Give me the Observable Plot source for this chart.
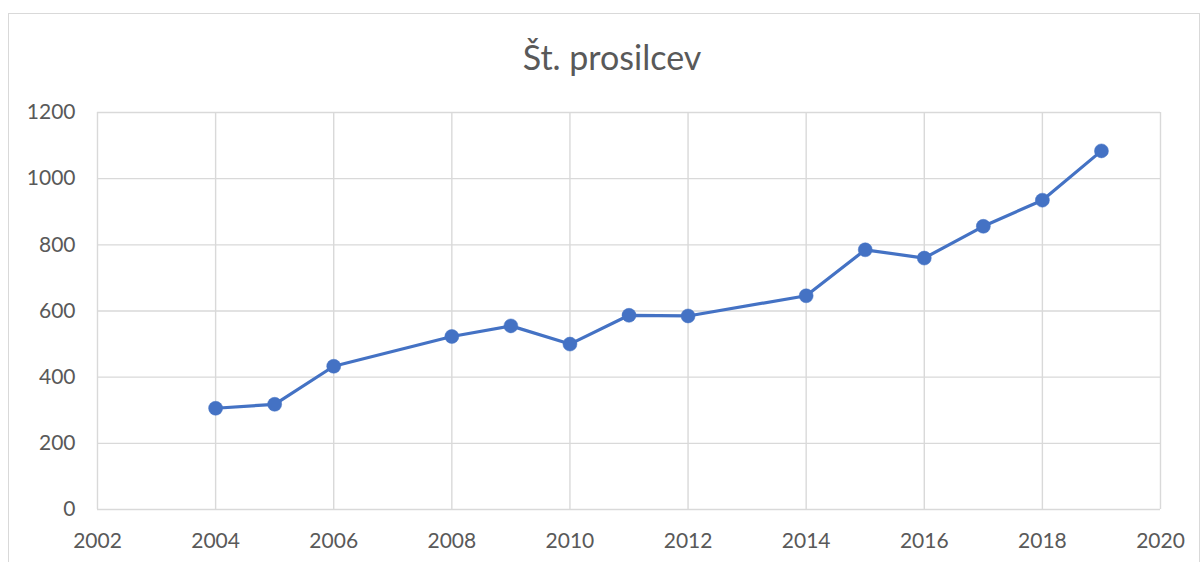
<!DOCTYPE html>
<html>
<head>
<meta charset="utf-8">
<script src="https://cdn.jsdelivr.net/npm/d3@7"></script>
<script src="https://cdn.jsdelivr.net/npm/@observablehq/plot@0.6"></script>
<style>
  html, body { margin: 0; padding: 0; background: #fff; overflow: hidden; }
  #wrap { position: relative; width: 1202px; height: 562px; font-family: Lato, "Open Sans", sans-serif; }
  #frame { position: absolute; left: 8px; top: 13px; width: 1192px; height: 600px; border: 1px solid #d9d9d9; box-sizing: border-box; }
  #title { position: absolute; left: 16px; width: 1192px; top: 37px; text-align: center; font-size: 34px; color: #595959; line-height: 40px; }
  #chart { position: absolute; left: 0; top: 80px; }
</style>
</head>
<body>
<div id="wrap">
  <div id="frame"></div>
  <div id="title">Št. prosilcev</div>
  <div id="chart"></div>
</div>
<script>
const years = [2004, 2005, 2006, 2008, 2009, 2010, 2011, 2012, 2014, 2015, 2016, 2017, 2018, 2019];
const applicants = [306, 318, 433, 523, 555, 500, 587, 585, 646, 785, 760, 856, 935, 1084];
const xTicks = [2002, 2004, 2006, 2008, 2010, 2012, 2014, 2016, 2018, 2020];
const yTicks = [0, 200, 400, 600, 800, 1000, 1200];

const data = years.map((y, i) => ({year: y, value: applicants[i]}));
const blue = "#4472C4";
const grid = "#d9d9d9";

const chart = Plot.plot({
  width: 1202,
  height: 482,
  marginLeft: 97,
  marginRight: 42,
  marginTop: 32,
  marginBottom: 53,
  style: {fontFamily: "Lato, 'Open Sans', sans-serif", fontSize: "21px", color: "#595959", background: "transparent"},
  x: {domain: [2002, 2020], ticks: xTicks, tickFormat: d => String(d)},
  y: {domain: [0, 1200], ticks: yTicks, tickFormat: d => String(d)},
  marks: [
    Plot.ruleY(yTicks, {stroke: grid, strokeWidth: 1.4}),
    Plot.ruleX(xTicks, {stroke: grid, strokeWidth: 1.4}),
    Plot.axisX({ticks: xTicks, tickSize: 0, tickPadding: 24, tickFormat: d => String(d), label: null, fill: "#595959", fontSize: 21}),
    Plot.axisY({ticks: yTicks, tickSize: 0, tickPadding: 22, tickFormat: d => String(d), label: null, fill: "#595959", fontSize: 21}),
    Plot.line(data, {x: "year", y: "value", stroke: blue, strokeWidth: 3.2}),
    Plot.dot(data, {x: "year", y: "value", r: 7, fill: blue, stroke: blue, strokeWidth: 0.5})
  ]
});
document.getElementById("chart").appendChild(chart);
</script>
</body>
</html>
